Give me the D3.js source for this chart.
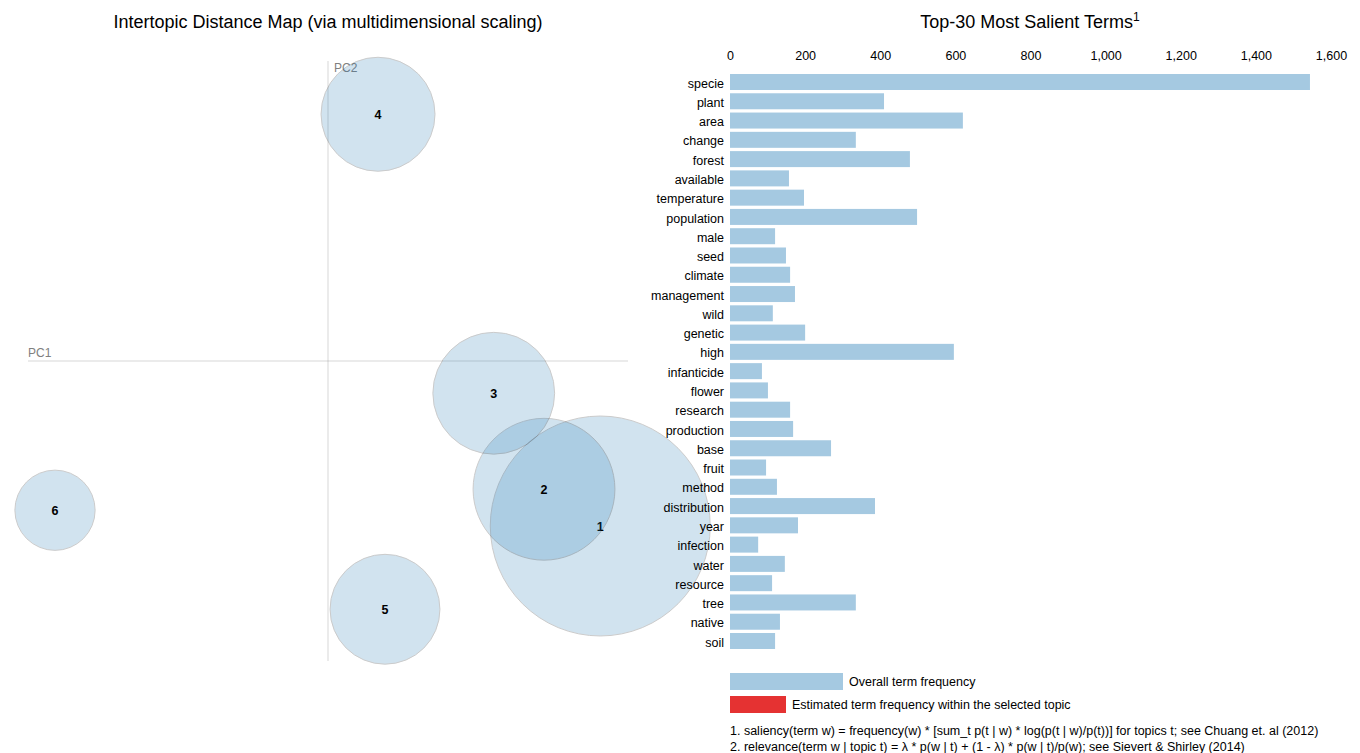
<!DOCTYPE html>
<html>
<head>
<meta charset="utf-8">
<script src="https://cdn.jsdelivr.net/npm/d3@7"></script>
<style>
  html, body { margin: 0; padding: 0; background: #fff; }
  svg { display: block; font-family: "Liberation Sans", Arial, sans-serif; }
</style>
</head>
<body>
<svg id="chart" width="1360" height="753"></svg>
<script>
// ---- Data ----
const topicIds   = [1, 2, 3, 4, 5, 6];
const topicPC1   = [0.363, 0.288, 0.221, 0.0667, 0.076, -0.364];
const topicPC2   = [-0.220, -0.171, -0.043, 0.329, -0.331, -0.199];
const topicFreq  = [42.1, 17.5, 12.9, 11.3, 10.5, 5.6]; // % of tokens

const terms = ["specie","plant","area","change","forest","available","temperature","population","male","seed",
  "climate","management","wild","genetic","high","infanticide","flower","research","production","base",
  "fruit","method","distribution","year","infection","water","resource","tree","native","soil"];
const termFreq = [1544, 410, 620, 335, 479, 157, 197, 498, 120, 149,
  160, 173, 114, 200, 596, 85, 101, 160, 168, 269,
  96, 125, 386, 181, 75, 146, 112, 335, 133, 120];
const freqTicks = [0, 200, 400, 600, 800, 1000, 1200, 1400, 1600];

const color1 = "#1f77b4";
const color2 = "#e53232";

const svg = d3.select("#chart");

// ---- Left: Intertopic Distance Map ----
const mdsX = d3.scaleLinear().domain([-0.4, 0.4]).range([28, 628]);
const mdsY = d3.scaleLinear().domain([-0.4, 0.4]).range([661, 61]);
const rScale = d3.scaleSqrt().domain([0, 100]).range([0, 169.5]);

svg.append("text")
  .attr("x", 328).attr("y", 28)
  .attr("text-anchor", "middle")
  .style("font-size", "18px").style("fill", "#000")
  .text("Intertopic Distance Map (via multidimensional scaling)");

const left = svg.append("g");
left.append("line")
  .attr("x1", mdsX(-0.4)).attr("x2", mdsX(0.4))
  .attr("y1", mdsY(0)).attr("y2", mdsY(0))
  .attr("stroke", "gray").attr("opacity", 0.3);
left.append("text").attr("x", mdsX(-0.4)).attr("y", mdsY(0) - 4)
  .style("font-size", "12px").style("fill", "gray").text("PC1");
left.append("line")
  .attr("x1", mdsX(0)).attr("x2", mdsX(0))
  .attr("y1", mdsY(0.4)).attr("y2", mdsY(-0.4))
  .attr("stroke", "gray").attr("opacity", 0.3);
left.append("text").attr("x", mdsX(0) + 6).attr("y", mdsY(0.4) + 11)
  .style("font-size", "12px").style("fill", "gray").text("PC2");

const topics = topicIds.map((id, i) => ({id, x: topicPC1[i], y: topicPC2[i], f: topicFreq[i]}));
const tg = left.selectAll("g.topic").data(topics).join("g").attr("class", "topic");
tg.append("circle")
  .attr("cx", d => mdsX(d.x)).attr("cy", d => mdsY(d.y))
  .attr("r", d => rScale(d.f))
  .style("fill", color1).style("opacity", 0.2)
  .style("stroke", "black").style("stroke-width", 1);
tg.append("text")
  .attr("x", d => mdsX(d.x)).attr("y", d => mdsY(d.y) + 5)
  .attr("text-anchor", "middle")
  .style("font-size", "12.5px").style("font-weight", "bold").style("fill", "#000")
  .text(d => d.id);

// ---- Right: Top-30 Most Salient Terms ----
const bx = d3.scaleLinear().domain([0, 1600]).range([730, 1331]);
const by = d3.scaleBand().domain(terms).range([74, 649]).paddingInner(0.17).paddingOuter(0);

const title = svg.append("text")
  .attr("x", 1030).attr("y", 28)
  .attr("text-anchor", "middle")
  .style("font-size", "18px").style("fill", "#000");
title.append("tspan").text("Top-30 Most Salient Terms");
title.append("tspan").attr("baseline-shift", "super").style("font-size", "12px").text("1");

const axis = svg.append("g")
  .attr("transform", "translate(0,63)")
  .call(d3.axisTop(bx).tickValues(freqTicks).tickSize(0).tickPadding(3).tickFormat(d3.format(",")));
axis.select(".domain").remove();
axis.selectAll("text").style("font-size", "12.5px").style("fill", "#000")
  .style("font-family", '"Liberation Sans", Arial, sans-serif');

const bars = svg.append("g");
bars.selectAll("rect").data(terms).join("rect")
  .attr("x", bx(0)).attr("y", d => by(d))
  .attr("width", (d, i) => bx(termFreq[i]) - bx(0))
  .attr("height", by.bandwidth())
  .style("fill", color1).style("opacity", 0.4);
bars.selectAll("text").data(terms).join("text")
  .attr("x", bx(0) - 6).attr("y", d => by(d) + by.bandwidth() / 2)
  .attr("dy", "0.45em")
  .attr("text-anchor", "end")
  .style("font-size", "12.5px").style("fill", "#000")
  .text(d => d);

// Legend
const lg = svg.append("g");
lg.append("rect").attr("x", 730).attr("y", 673).attr("width", 113).attr("height", 17)
  .style("fill", color1).style("opacity", 0.4);
lg.append("text").attr("x", 849).attr("y", 686).style("font-size", "12.5px").text("Overall term frequency");
lg.append("rect").attr("x", 730).attr("y", 696).attr("width", 56).attr("height", 17)
  .style("fill", color2);
lg.append("text").attr("x", 792).attr("y", 709).style("font-size", "12.5px")
  .text("Estimated term frequency within the selected topic");
lg.append("text").attr("x", 730).attr("y", 735).style("font-size", "12.5px")
  .text("1. saliency(term w) = frequency(w) * [sum_t p(t | w) * log(p(t | w)/p(t))] for topics t; see Chuang et. al (2012)");
lg.append("text").attr("x", 730).attr("y", 751).style("font-size", "12.5px")
  .text("2. relevance(term w | topic t) = \u03bb * p(w | t) + (1 - \u03bb) * p(w | t)/p(w); see Sievert & Shirley (2014)");
</script>
</body>
</html>
